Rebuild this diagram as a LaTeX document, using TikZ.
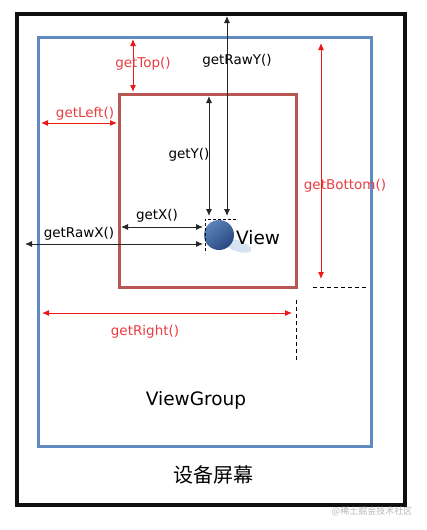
\documentclass[tikz,border=0pt]{standalone}
\usepackage{fontspec}
\setmainfont{DejaVu Sans}
\newfontfamily\cjk{Noto Sans CJK SC}
\usetikzlibrary{arrows.meta}
\definecolor{scr}{RGB}{15,15,15}
\definecolor{vgblue}{RGB}{98,138,194}
\definecolor{vred}{RGB}{186,86,84}
\definecolor{ared}{RGB}{236,24,24}
\definecolor{tred}{RGB}{232,62,66}
\definecolor{balltop}{RGB}{92,132,186}
\definecolor{ballbot}{RGB}{38,72,128}
\definecolor{shadowc}{RGB}{214,227,242}
\begin{document}
\begin{tikzpicture}[x=1pt,y=-1pt,
  tip/.tip={Latex[length=7pt,width=6pt]},
  blkarrow/.style={draw=black!85,line width=0.9pt,{tip}-{tip}},
  redarrow/.style={draw=ared,line width=1pt,{tip}-{tip}},
  dashline/.style={draw=black,line width=1pt,dash pattern=on 4pt off 3pt},
  lbl/.style={font=\fontsize{13.5}{16}\selectfont,inner sep=0pt},
  redlbl/.style={lbl,text=tred},
  frame/.style={draw,anchor=north west,inner sep=0pt,outer sep=0pt}]
\useasboundingbox (0,0) rectangle (426,530);
% frames
\node[frame,draw=scr,line width=3.2pt,minimum width=388pt,minimum height=491pt] (screen) at (17,14) {};
\node[frame,draw=vgblue,line width=3pt,minimum width=333pt,minimum height=409pt] (group) at (38,37) {};
\node[frame,draw=vred,line width=3pt,minimum width=177pt,minimum height=193pt] (vbox) at (119,94) {};
% view
\fill[shadowc,rotate around={-18:(238,246)}] (238,246) ellipse (14pt and 5.5pt);
\shade[top color=balltop,bottom color=ballbot,shading angle=40] (219,235) circle (15pt);
\node[circle,minimum size=30pt,inner sep=0pt] (ball) at (219,235) {};
\coordinate (dtl) at (205,219);
\coordinate (dtr) at (236,219);
\coordinate (dbl) at (205,253);
\draw[dashline,line width=0.9pt,dash pattern=on 3pt off 2pt] (dtr) -- (dtl) -- (dbl);
\node[font=\fontsize{18.5}{20}\selectfont,inner sep=0pt,anchor=west] (view) at (236,238) {View};
% coordinates
\coordinate (rawyT) at (227,16);
\coordinate (rawyB) at (227,216);
\coordinate (yT) at (209,96);
\coordinate (yB) at (209,216);
\coordinate (xL) at (121,227);
\coordinate (xR) at (203,227);
\coordinate (rawxL) at (25,244);
\coordinate (rawxR) at (203,244);
\coordinate (topT) at (133,39);
\coordinate (topB) at (133,92);
\coordinate (leftL) at (41,123);
\coordinate (leftR) at (117,123);
\coordinate (botT) at (321,43);
\coordinate (botB) at (321,279);
\coordinate (rightL) at (42,313);
\coordinate (rightR) at (292,313);
\coordinate (dh1) at (313,287);
\coordinate (dh2) at (367,287);
\coordinate (dv1) at (296,300);
\coordinate (dv2) at (296,361);
% arrows
\draw[blkarrow] (rawyT) -- (rawyB);
\draw[blkarrow] (yT) -- (yB);
\draw[blkarrow] (xL) -- (xR);
\draw[blkarrow] (rawxL) -- (rawxR);
\draw[redarrow] (topT) -- (topB);
\draw[redarrow] (leftL) -- (leftR);
\draw[redarrow] (botT) -- (botB);
\draw[redarrow] (rightL) -- (rightR);
\draw[dashline] (dh1) -- (dh2);
\draw[dashline] (dv1) -- (dv2);
% labels
\node[lbl] (lrawy) at (237,61) {getRawY()};
\node[lbl] (ly) at (189,155) {getY()};
\node[lbl] (lx) at (157,216) {getX()};
\node[lbl] (lrawx) at (79,234) {getRawX()};
\node[redlbl] (ltop) at (143,64) {getTop()};
\node[redlbl] (lleft) at (85,114) {getLeft()};
\node[redlbl] (lbot) at (345,186) {getBottom()};
\node[redlbl] (lright) at (145,332) {getRight()};
\node[font=\fontsize{18.5}{20}\selectfont,inner sep=0pt] (lgroup) at (196,400) {ViewGroup};
\node[font=\cjk\fontsize{20}{22}\selectfont,inner sep=0pt] (lscreen) at (213,475) {设备屏幕};
\node[font=\cjk\fontsize{9}{10}\selectfont,text=black!28,inner sep=0pt] (wm) at (372,511) {@稀土掘金技术社区};
\end{tikzpicture}
\end{document}
